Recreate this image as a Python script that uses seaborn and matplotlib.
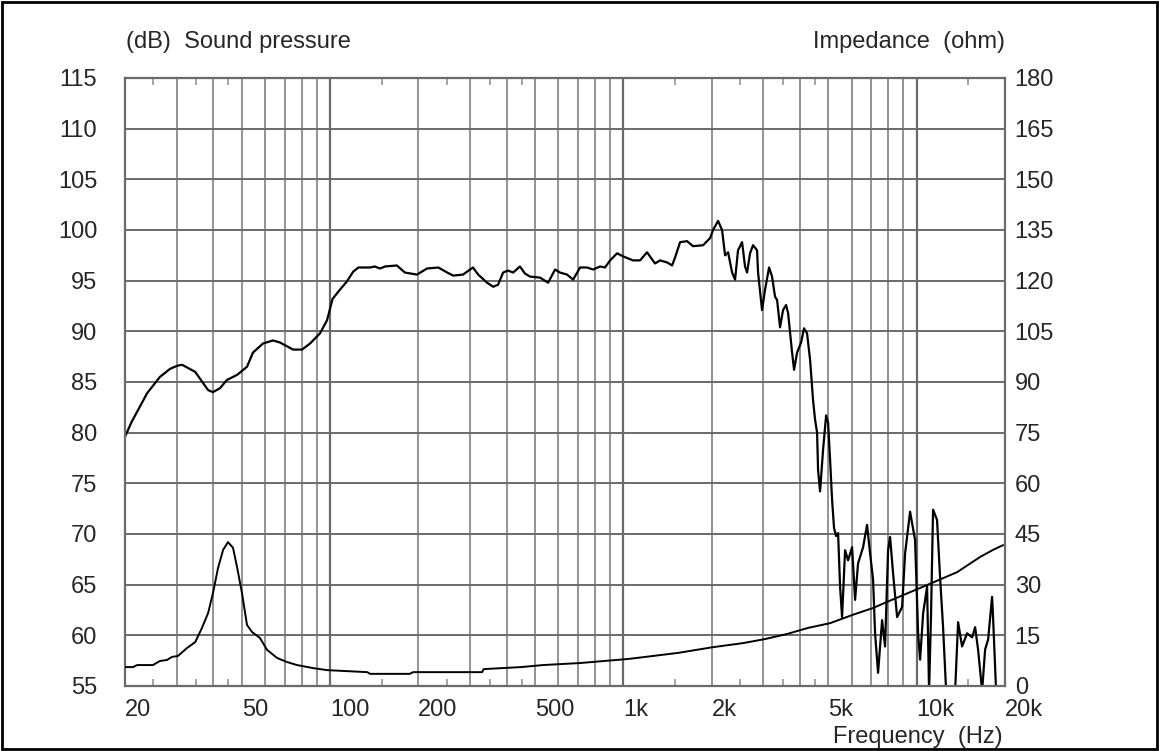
import pandas as pd
import seaborn as sns
import matplotlib.pyplot as plt
from matplotlib.patches import Rectangle

# sound pressure curve (Hz, dB)
spl_freq = [20, 21.1, 23.8, 26.3, 28.5, 30.1, 31.3, 34.7, 38.4, 39.9,
            42.2, 44.5, 48.2, 52.1, 54.6, 59.1, 63.9, 67.5, 74.8, 80.3,
            85.5, 92.4, 97.7, 102, 108, 114, 120, 125, 137, 142,
            148, 154, 169, 180, 198, 214, 234, 251, 263, 284,
            307, 320, 343, 360, 374, 389, 404, 421, 444, 462,
            481, 520, 554, 585, 608, 643, 674, 712, 752, 788,
            833, 866, 901, 952, 997, 1079, 1140, 1204, 1282, 1334,
            1409, 1466, 1501, 1561, 1649, 1728, 1870, 1975, 2022, 2103,
            2170, 2222, 2275, 2348, 2403, 2460, 2539, 2599, 2641, 2703,
            2768, 2856, 2879, 2970, 3041, 3138, 3213, 3290, 3342, 3421,
            3503, 3587, 3644, 3760, 3819, 3910, 4035, 4130, 4229, 4330,
            4433, 4503, 4575, 4611, 4684, 4795, 4911, 4988, 5067, 5146,
            5226, 5309, 5395, 5480, 5567, 5699, 5836, 6022, 6165, 6311,
            6565, 6773, 6935, 7100, 7213, 7384, 7621, 7802, 7988, 8114,
            8308, 8575, 8918, 9130, 9494, 9874, 10110, 10270, 10520, 10850,
            11020, 11190, 11370, 11730, 12010, 12300, 12600, 13520, 13840, 14280,
            14850, 15450, 15820, 16190, 16710, 17110, 17520, 18070, 18210, 18650]
spl_db = [79.6, 81.1, 83.9, 85.5, 86.3, 86.6, 86.7, 86.0, 84.2, 84.0,
          84.4, 85.2, 85.7, 86.5, 87.9, 88.8, 89.1, 88.9, 88.2, 88.2,
          88.8, 89.8, 91.1, 93.2, 94.1, 94.9, 95.9, 96.3, 96.3, 96.4,
          96.2, 96.4, 96.5, 95.8, 95.6, 96.2, 96.3, 95.8, 95.5, 95.6,
          96.3, 95.6, 94.8, 94.4, 94.6, 95.8, 96.0, 95.8, 96.4, 95.7,
          95.4, 95.3, 94.8, 96.1, 95.8, 95.6, 95.1, 96.3, 96.3, 96.1,
          96.4, 96.3, 97.0, 97.7, 97.4, 97.0, 97.0, 97.8, 96.7, 97.0,
          96.8, 96.5, 97.3, 98.8, 98.9, 98.4, 98.5, 99.2, 100.0, 100.9,
          100.0, 97.5, 97.8, 95.8, 95.1, 98.0, 98.8, 96.4, 95.8, 97.7,
          98.5, 98.0, 95.8, 92.1, 94.1, 96.3, 95.4, 93.4, 93.1, 90.4,
          92.1, 92.6, 91.8, 87.9, 86.2, 87.9, 88.9, 90.3, 89.8, 87.2,
          83.2, 81.3, 80.0, 76.3, 74.2, 78.3, 81.7, 81.0, 77.3, 73.4,
          70.6, 69.8, 70.1, 64.8, 61.8, 68.4, 67.4, 68.7, 63.5, 67.1,
          68.7, 70.9, 68.1, 65.5, 60.2, 56.3, 61.5, 58.9, 68.4, 69.7,
          66.1, 61.8, 62.8, 68.1, 72.2, 69.4, 60.2, 57.6, 62.2, 64.8,
          54.5, 62.0, 72.4, 71.4, 65.8, 60.8, 54.5, 54.5, 61.3, 58.9,
          60.2, 59.8, 60.8, 58.6, 54.5, 58.6, 59.6, 63.8, 61.8, 54.5]

# impedance curve (Hz, ohm)
imp_freq = [20, 21.3, 22.0, 24.9, 26.3, 27.8, 28.9, 30.3, 32.5, 34.7,
            36.6, 38.4, 39.9, 41.5, 43.2, 44.9, 46.7, 48.2, 50.1, 52.1,
            54.2, 57.7, 61.0, 66.0, 71.3, 77.2, 87.5, 97.7, 134, 137,
            187, 192, 330, 334, 448, 532, 712, 859, 1038, 1185,
            1536, 2022, 2559, 3041, 3615, 4263, 5067, 6022, 7100, 7925,
            10850, 13730, 16450, 18210, 19700]
imp_ohm = [5.6, 5.6, 6.2, 6.2, 7.4, 7.7, 8.6, 8.9, 11.2, 13.0,
           17.2, 21.6, 27.5, 34.9, 40.3, 42.6, 40.9, 35.2, 27.5, 18.1,
           16.0, 14.2, 10.7, 8.3, 7.1, 6.2, 5.3, 4.7, 4.1, 3.6,
           3.6, 4.1, 4.1, 5.0, 5.6, 6.2, 6.8, 7.4, 8.0, 8.6,
           9.8, 11.5, 12.7, 13.9, 15.4, 17.2, 18.6, 21.0, 23.1, 24.9,
           29.9, 33.7, 38.2, 40.3, 41.7]

# axis labels
x_label_pos = [20, 50, 100, 200, 500, 1000, 2000, 5000, 10000, 20000]
x_labels = ["20", "50", "100", "200", "500", "1k", "2k", "5k", "10k", "20k"]
x_grid = [30, 40, 50, 60, 70, 80, 90, 200, 300, 400, 500, 600, 700, 800, 900,
          2000, 3000, 4000, 5000, 6000, 7000, 8000, 9000]
x_decades = [100, 1000, 10000]
x_minor = [25, 35, 45, 150, 250, 350, 450, 1500, 2500, 3500, 4500, 15000]
db_ticks = list(range(55, 120, 5))
ohm_ticks = list(range(0, 195, 15))

spl = pd.DataFrame({"freq": spl_freq, "db": spl_db})
imp = pd.DataFrame({"freq": imp_freq, "ohm": imp_ohm})

sns.set_style("white")
plt.rcParams["font.family"] = ["Liberation Sans", "DejaVu Sans"]

fs = 17
grid_col = "#939393"
dark_col = "#6a6a6a"

fig = plt.figure(figsize=(11.59, 7.51), dpi=100)
ax = fig.add_axes([125 / 1159, 1 - 686 / 751, 880 / 1159, 608 / 751])
ax.set_xscale("log")

sns.lineplot(data=spl, x="freq", y="db", ax=ax, color="black", lw=1.6,
             estimator=None, sort=False)

ax2 = ax.twinx()
sns.lineplot(data=imp, x="freq", y="ohm", ax=ax2, color="black", lw=1.4,
             estimator=None, sort=False)

# grid: regular lines light, decade lines darker
for f in x_grid:
    ax.axvline(f, color=grid_col, lw=1.4, zorder=0)
for f in x_decades:
    ax.axvline(f, color=dark_col, lw=1.6, zorder=0)
for v in db_ticks:
    ax.axhline(v, color=dark_col, lw=1.4, zorder=0)

ax.set_xticks(x_label_pos)
ax.set_xticklabels(x_labels, ha="left")
ax.set_xticks(x_minor, minor=True)
ax.set_xticklabels([""] * len(x_minor), minor=True)
ax.tick_params(axis="x", which="major", length=0, pad=9, labelsize=fs)
ax.tick_params(axis="x", which="minor", direction="in", length=5, width=1.2,
               color=grid_col, top=True, bottom=True)
ax.set_yticks(db_ticks)
ax.tick_params(axis="y", length=0, pad=20, labelsize=fs)
ax.set_xlabel("")
ax.set_ylabel("")
for s in ax.spines.values():
    s.set_color(dark_col)
    s.set_linewidth(1.6)

ax2.set_ylim(0, 180)
ax2.set_yticks(ohm_ticks)
ax2.tick_params(axis="y", length=0, pad=7, labelsize=fs)
ax2.set_ylabel("")
ax2.set_xlabel("")
for s in ax2.spines.values():
    s.set_visible(False)

ax.set_xlim(20, 20000)
ax.set_ylim(55, 115)

fig.text(126 / 1159, 1 - 42 / 751, "(dB)  Sound pressure", fontsize=fs,
         ha="left", va="center")
fig.text(1005 / 1159, 1 - 42 / 751, "Impedance  (ohm)", fontsize=fs,
         ha="right", va="center")
fig.text(1003 / 1159, 1 - 737 / 751, "Frequency  (Hz)", fontsize=fs,
         ha="right", va="center")

fig.patches.append(Rectangle((2 / 1159, 2 / 751), 1155 / 1159, 747 / 751,
                             transform=fig.transFigure, fill=False,
                             lw=2, ec="black"))

fig.savefig("out.png", dpi=100)
